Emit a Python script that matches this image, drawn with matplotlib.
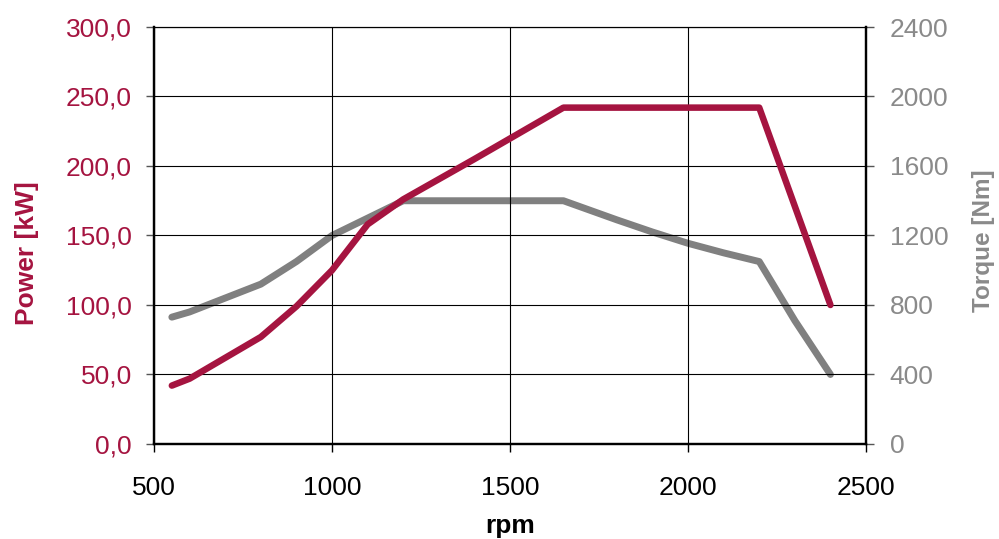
import matplotlib
matplotlib.use("Agg")
import matplotlib.pyplot as plt

plt.rcParams['font.family'] = ['Liberation Sans', 'DejaVu Sans']

rpm_power = [550, 600, 700, 800, 900, 1000, 1100, 1200, 1400, 1650, 2200, 2400]
power_kw = [42, 47, 62, 77, 99, 125, 158, 176, 205, 242, 242, 100]

rpm_torque = [550, 600, 700, 800, 900, 1000, 1100, 1200, 1650, 1800, 1900, 2000, 2100, 2200, 2300, 2400]
torque_nm = [730, 760, 840, 920, 1050, 1200, 1300, 1400, 1400, 1290, 1220, 1155, 1100, 1050, 710, 400]

x_ticks = [500, 1000, 1500, 2000, 2500]
power_ticks = [0, 50, 100, 150, 200, 250, 300]
torque_ticks = [0, 400, 800, 1200, 1600, 2000, 2400]

RED = '#A51440'
GRAY = '#808080'
LABEL_GRAY = '#8a8a8a'

fig = plt.figure(figsize=(9.99, 5.39), dpi=100)
ax = fig.add_axes([0.1542, 0.1763, 0.8669 - 0.1542, 0.9499 - 0.1763])
ax2 = ax.twinx()

ax.set_xlim(500, 2500)
ax.set_ylim(0, 300)
ax2.set_ylim(0, 2400)

ax.set_xticks(x_ticks)
ax.set_yticks(power_ticks)
ax.set_yticklabels([f"{v:.1f}".replace('.', ',') for v in power_ticks])
ax2.set_yticks(torque_ticks)

ax.grid(True, color='black', linewidth=0.8)
ax.set_axisbelow(True)

ax2.plot(rpm_torque, torque_nm, color=GRAY, linewidth=5, solid_capstyle='round', solid_joinstyle='round', zorder=3)
ax.set_zorder(ax2.get_zorder() + 1)
ax.patch.set_visible(False)
ax.plot(rpm_power, power_kw, color=RED, linewidth=4.7, solid_capstyle='round', solid_joinstyle='round', zorder=3)

for a in (ax, ax2):
    for s in a.spines.values():
        s.set_linewidth(1.6)
        s.set_color('black')
    a.spines['top'].set_linewidth(0.8)

ax.tick_params(axis='x', direction='out', length=6, width=1, labelsize=19, colors='black', pad=17)
ax.tick_params(axis='y', direction='out', length=6, width=1, labelsize=19, colors='#555555', labelcolor=RED, pad=10)
ax2.tick_params(axis='y', direction='out', length=6, width=1, labelsize=19, colors='#555555', labelcolor=LABEL_GRAY, pad=11)

ax.set_xlabel('rpm', fontsize=19, fontweight='bold', labelpad=10)
ax.set_ylabel('Power [kW]', fontsize=19, fontweight='bold', color=RED, labelpad=19)
ax2.set_ylabel('Torque [Nm]', fontsize=17.5, fontweight='bold', color=LABEL_GRAY, labelpad=17)
ax.yaxis.label.set_y(0.458)
ax2.yaxis.label.set_y(0.487)

fig.savefig('out.png', dpi=100)
